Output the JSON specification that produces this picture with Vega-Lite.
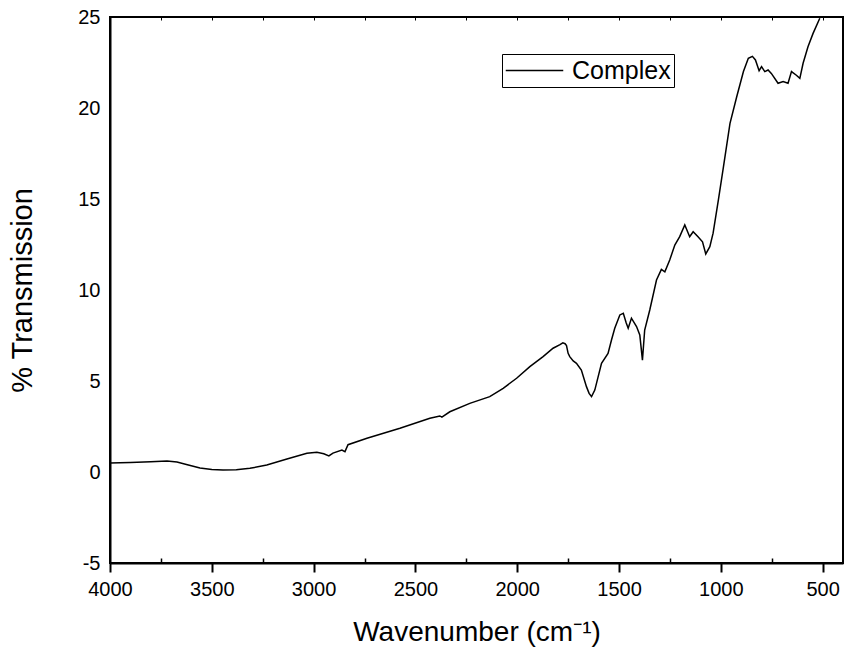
{
  "$schema": "https://vega.github.io/schema/vega-lite/v6.json",
  "autosize": "none",
  "width": 733,
  "height": 546,
  "padding": {"left": 110, "top": 17, "right": 3, "bottom": 89},
  "config": {
    "view": {"stroke": "black", "strokeWidth": 2},
    "font": "Liberation Sans",
    "axis": {"grid": false, "labelFont": "Liberation Sans", "titleFont": "Liberation Sans", "labelColor": "black", "titleColor": "black", "titleFontWeight": "normal", "domainColor": "black", "tickColor": "black"}
  },
  "data": {
    "values": [
      {"wn": 4000, "t": 0.49, "s": "Complex"},
      {"wn": 3900, "t": 0.52, "s": "Complex"},
      {"wn": 3800, "t": 0.57, "s": "Complex"},
      {"wn": 3720, "t": 0.6, "s": "Complex"},
      {"wn": 3671, "t": 0.55, "s": "Complex"},
      {"wn": 3620, "t": 0.4, "s": "Complex"},
      {"wn": 3558, "t": 0.22, "s": "Complex"},
      {"wn": 3500, "t": 0.14, "s": "Complex"},
      {"wn": 3445, "t": 0.11, "s": "Complex"},
      {"wn": 3380, "t": 0.13, "s": "Complex"},
      {"wn": 3313, "t": 0.2, "s": "Complex"},
      {"wn": 3230, "t": 0.38, "s": "Complex"},
      {"wn": 3131, "t": 0.71, "s": "Complex"},
      {"wn": 3033, "t": 1.03, "s": "Complex"},
      {"wn": 2984, "t": 1.08, "s": "Complex"},
      {"wn": 2950, "t": 1.0, "s": "Complex"},
      {"wn": 2925, "t": 0.88, "s": "Complex"},
      {"wn": 2905, "t": 1.04, "s": "Complex"},
      {"wn": 2861, "t": 1.2, "s": "Complex"},
      {"wn": 2846, "t": 1.12, "s": "Complex"},
      {"wn": 2831, "t": 1.5, "s": "Complex"},
      {"wn": 2738, "t": 1.85, "s": "Complex"},
      {"wn": 2576, "t": 2.4, "s": "Complex"},
      {"wn": 2429, "t": 2.95, "s": "Complex"},
      {"wn": 2380, "t": 3.08, "s": "Complex"},
      {"wn": 2370, "t": 3.02, "s": "Complex"},
      {"wn": 2331, "t": 3.31, "s": "Complex"},
      {"wn": 2233, "t": 3.77, "s": "Complex"},
      {"wn": 2135, "t": 4.14, "s": "Complex"},
      {"wn": 2069, "t": 4.6, "s": "Complex"},
      {"wn": 2003, "t": 5.15, "s": "Complex"},
      {"wn": 1938, "t": 5.79, "s": "Complex"},
      {"wn": 1873, "t": 6.34, "s": "Complex"},
      {"wn": 1824, "t": 6.8, "s": "Complex"},
      {"wn": 1790, "t": 7.0, "s": "Complex"},
      {"wn": 1776, "t": 7.1, "s": "Complex"},
      {"wn": 1765, "t": 7.05, "s": "Complex"},
      {"wn": 1758, "t": 6.95, "s": "Complex"},
      {"wn": 1750, "t": 6.52, "s": "Complex"},
      {"wn": 1742, "t": 6.34, "s": "Complex"},
      {"wn": 1725, "t": 6.1, "s": "Complex"},
      {"wn": 1709, "t": 5.97, "s": "Complex"},
      {"wn": 1685, "t": 5.6, "s": "Complex"},
      {"wn": 1660, "t": 4.69, "s": "Complex"},
      {"wn": 1647, "t": 4.32, "s": "Complex"},
      {"wn": 1635, "t": 4.14, "s": "Complex"},
      {"wn": 1619, "t": 4.5, "s": "Complex"},
      {"wn": 1586, "t": 5.97, "s": "Complex"},
      {"wn": 1554, "t": 6.52, "s": "Complex"},
      {"wn": 1537, "t": 7.25, "s": "Complex"},
      {"wn": 1521, "t": 7.9, "s": "Complex"},
      {"wn": 1496, "t": 8.63, "s": "Complex"},
      {"wn": 1479, "t": 8.72, "s": "Complex"},
      {"wn": 1465, "t": 8.2, "s": "Complex"},
      {"wn": 1455, "t": 7.9, "s": "Complex"},
      {"wn": 1439, "t": 8.45, "s": "Complex"},
      {"wn": 1414, "t": 7.99, "s": "Complex"},
      {"wn": 1398, "t": 7.53, "s": "Complex"},
      {"wn": 1385, "t": 6.15, "s": "Complex"},
      {"wn": 1374, "t": 7.8, "s": "Complex"},
      {"wn": 1349, "t": 8.9, "s": "Complex"},
      {"wn": 1316, "t": 10.55, "s": "Complex"},
      {"wn": 1292, "t": 11.13, "s": "Complex"},
      {"wn": 1275, "t": 11.0, "s": "Complex"},
      {"wn": 1251, "t": 11.65, "s": "Complex"},
      {"wn": 1226, "t": 12.47, "s": "Complex"},
      {"wn": 1202, "t": 12.93, "s": "Complex"},
      {"wn": 1177, "t": 13.57, "s": "Complex"},
      {"wn": 1153, "t": 12.93, "s": "Complex"},
      {"wn": 1136, "t": 13.2, "s": "Complex"},
      {"wn": 1112, "t": 12.93, "s": "Complex"},
      {"wn": 1090, "t": 12.65, "s": "Complex"},
      {"wn": 1074, "t": 11.98, "s": "Complex"},
      {"wn": 1054, "t": 12.38, "s": "Complex"},
      {"wn": 1038, "t": 13.12, "s": "Complex"},
      {"wn": 1012, "t": 14.95, "s": "Complex"},
      {"wn": 987, "t": 16.78, "s": "Complex"},
      {"wn": 955, "t": 19.16, "s": "Complex"},
      {"wn": 922, "t": 20.62, "s": "Complex"},
      {"wn": 889, "t": 22.0, "s": "Complex"},
      {"wn": 865, "t": 22.73, "s": "Complex"},
      {"wn": 845, "t": 22.84, "s": "Complex"},
      {"wn": 830, "t": 22.64, "s": "Complex"},
      {"wn": 812, "t": 22.05, "s": "Complex"},
      {"wn": 800, "t": 22.27, "s": "Complex"},
      {"wn": 784, "t": 22.0, "s": "Complex"},
      {"wn": 768, "t": 22.09, "s": "Complex"},
      {"wn": 752, "t": 21.9, "s": "Complex"},
      {"wn": 719, "t": 21.36, "s": "Complex"},
      {"wn": 694, "t": 21.45, "s": "Complex"},
      {"wn": 670, "t": 21.36, "s": "Complex"},
      {"wn": 653, "t": 22.0, "s": "Complex"},
      {"wn": 629, "t": 21.8, "s": "Complex"},
      {"wn": 612, "t": 21.63, "s": "Complex"},
      {"wn": 596, "t": 22.46, "s": "Complex"},
      {"wn": 572, "t": 23.37, "s": "Complex"},
      {"wn": 547, "t": 24.1, "s": "Complex"},
      {"wn": 514, "t": 24.93, "s": "Complex"}
    ]
  },
  "layer": [
    {
      "mark": {"type": "line", "strokeWidth": 1.5, "clip": true},
      "encoding": {
        "x": {
          "field": "wn", "type": "quantitative",
          "scale": {"domain": [4000, 400], "nice": false, "zero": false},
          "axis": {"orient": "bottom", "values": [4000, 3500, 3000, 2500, 2000, 1500, 1000, 500], "labelExpr": "'' + datum.value", "tickSize": 9, "tickWidth": 2, "domainWidth": 2, "labelFontSize": 20, "labelPadding": 7, "labelFlush": false, "title": "Wavenumber (cm⁻¹)", "titleFontSize": 28, "titlePadding": 19}
        },
        "y": {
          "field": "t", "type": "quantitative",
          "scale": {"domain": [-5, 25], "nice": false, "zero": false},
          "axis": {"orient": "left", "values": [-5, 0, 5, 10, 15, 20, 25], "labelExpr": "'' + datum.value", "ticks": false, "domainWidth": 2, "labelFontSize": 20, "labelPadding": 10, "labelFlush": false, "title": "% Transmission", "titleFontSize": 29, "titlePadding": 40}
        },
        "color": {
          "field": "s", "type": "nominal",
          "scale": {"range": ["black"]},
          "legend": {"title": null, "orient": "none", "legendX": 392, "legendY": 37, "padding": 3, "strokeColor": "black", "symbolType": "M-2.3,0H2.3", "symbolSize": 625, "symbolOffset": 16, "symbolStrokeWidth": 1.5, "labelFontSize": 25, "labelColor": "black", "labelFont": "Liberation Sans", "labelOffset": 24}
        }
      }
    },
    {
      "mark": {"type": "line", "opacity": 0},
      "encoding": {
        "x": {
          "field": "wn", "type": "quantitative",
          "scale": {"domain": [4000, 400], "nice": false, "zero": false},
          "axis": {"orient": "bottom", "offset": -5, "values": [3750, 3250, 2750, 2250, 1750, 1250, 750], "tickSize": 5, "tickWidth": 1.5, "domain": false, "labels": false, "title": null}
        },
        "y": {"field": "t", "type": "quantitative", "scale": {"domain": [-5, 25], "nice": false, "zero": false}, "axis": null}
      }
    },
    {
      "mark": {"type": "line", "opacity": 0},
      "encoding": {
        "x": {
          "field": "wn", "type": "quantitative",
          "scale": {"domain": [4000, 400], "nice": false, "zero": false},
          "axis": {"orient": "top", "offset": -3, "values": [3750, 3500, 3250, 3000, 2750, 2500, 2250, 2000, 1750, 1500, 1250, 1000, 750, 500], "tickSize": 3, "tickWidth": 1, "domain": false, "labels": false, "title": null}
        },
        "y": {"field": "t", "type": "quantitative", "scale": {"domain": [-5, 25], "nice": false, "zero": false}, "axis": null}
      }
    }
  ],
  "resolve": {"scale": {"x": "independent", "y": "independent", "color": "independent"}, "axis": {"x": "independent"}}
}
